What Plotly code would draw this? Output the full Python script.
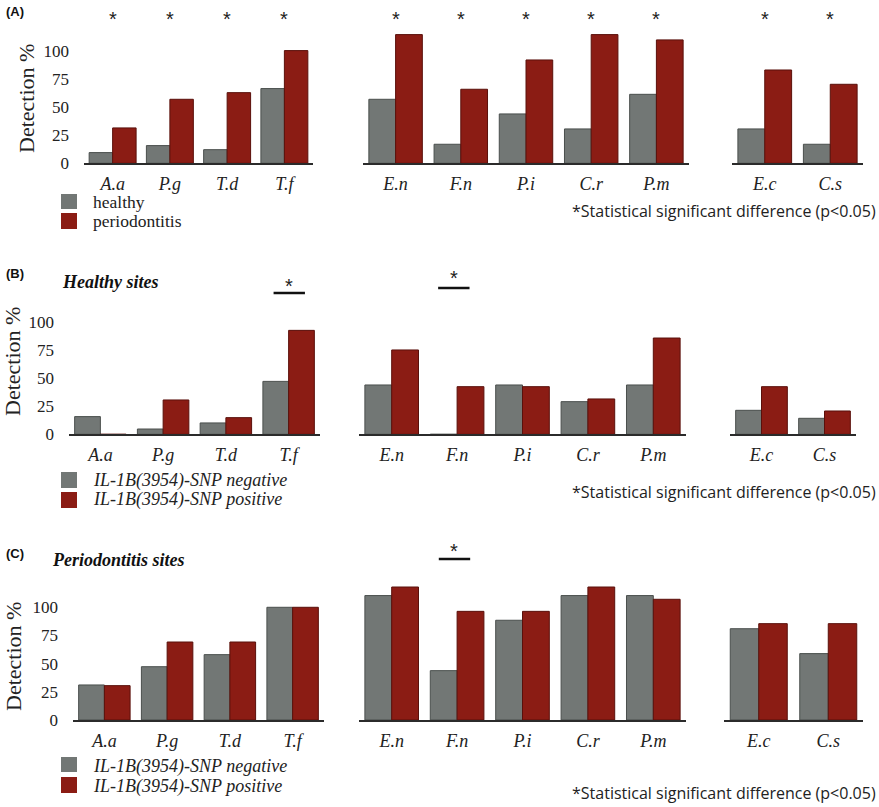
import plotly.graph_objects as go

W, H = 879, 807

# ---------------- data ----------------
group1 = ["A.a", "P.g", "T.d", "T.f"]
group2 = ["E.n", "F.n", "P.i", "C.r", "P.m"]
group3 = ["E.c", "C.s"]
y_ticks = [0, 25, 50, 75, 100]

# Panel A: healthy vs periodontitis
a_healthy = [9.5, 15.7, 12.1, 66.3, 56.8, 16.9, 43.8, 30.5, 61.2, 30.5, 16.9]
a_perio = [31.4, 56.8, 62.7, 100, 114.2, 65.7, 91.7, 114.2, 109.5, 82.8, 70.1]
# Panel B: healthy sites, SNP negative vs positive
b_negative = [15.7, 4.7, 10.1, 47.0, 43.8, 0, 43.8, 29.0, 43.8, 21.3, 14.2]
b_positive = [0, 30.5, 14.8, 92.3, 74.9, 42.3, 42.3, 31.4, 85.5, 42.3, 20.7]
# Panel C: periodontitis sites, SNP negative vs positive
c_negative = [31.1, 47.3, 58.0, 100, 110.4, 43.8, 88.5, 110.4, 110.4, 81.0, 58.9]
c_positive = [30.5, 69.2, 69.2, 100, 118.0, 96.4, 96.4, 118.0, 107.1, 85.5, 85.5]

GRAY = "#727775"
RED = "#8b1c14"
OUT = "#4a4f4d"
SERIF = "'Liberation Serif', 'Times New Roman', Times, 'DejaVu Serif', serif"
SANS = "'Liberation Sans', Arial, sans-serif"
NOTE = "'Open Sans', 'Noto Sans', sans-serif"


def fx(px):
    return px / W


def fy(py):
    return 1 - py / H


groups = [group1, group2, group3]
panels = [
    dict(s1=a_healthy, s2=a_perio, n1="healthy", n2="periodontitis",
         base=163.3, ppu=1.127,
         xd=[(84, 313), (363, 689), (732, 863)]),
    dict(s1=b_negative, s2=b_positive, n1="IL-1B(3954)-SNP negative", n2="IL-1B(3954)-SNP positive",
         base=434.3, ppu=1.126,
         xd=[(69, 320), (359, 686), (730, 856)]),
    dict(s1=c_negative, s2=c_positive, n1="IL-1B(3954)-SNP negative", n2="IL-1B(3954)-SNP positive",
         base=720.0, ppu=1.127,
         xd=[(73, 324), (359, 686), (724, 863)]),
]
YMAX = 125

fig = go.Figure()
layout = {}
for r, p in enumerate(panels):
    start = 0
    for c, cats in enumerate(groups):
        k = r * 3 + c + 1
        xa = "x" if k == 1 else f"x{k}"
        ya = "y" if k == 1 else f"y{k}"
        n = len(cats)
        v1 = p["s1"][start:start + n]
        v2 = p["s2"][start:start + n]
        start += n
        fig.add_trace(go.Bar(x=cats, y=v1, name=p["n1"], marker=dict(color=GRAY, line=dict(color=OUT, width=1)),
                             xaxis=xa, yaxis=ya, showlegend=False))
        fig.add_trace(go.Bar(x=cats, y=v2, name=p["n2"], marker=dict(color=RED, line=dict(color="#5a100b", width=1)),
                             xaxis=xa, yaxis=ya, showlegend=False))
        x0, x1 = p["xd"][c]
        layout["xaxis" if k == 1 else f"xaxis{k}"] = dict(
            domain=[fx(x0), fx(x1)], anchor=ya, type="category", automargin=False,
            showline=True, linecolor="#2b2b2b", linewidth=2,
            showgrid=False, zeroline=False, ticks="",
            tickfont=dict(family=SERIF, size=18, color="#222", style="italic"),
            ticklabelstandoff=3,
        )
        top = p["base"] - YMAX * p["ppu"]
        layout["yaxis" if k == 1 else f"yaxis{k}"] = dict(
            domain=[fy(p["base"]), fy(top)], anchor=xa, range=[0, YMAX], automargin=False,
            showgrid=False, zeroline=False, showline=False, ticks="",
            tickvals=y_ticks, ticktext=[str(t) for t in y_ticks],
            showticklabels=(c == 0),
            tickfont=dict(family=SERIF, size=17, color="#222"),
            ticklabelstandoff=14,
        )

annotations = []
shapes = []

# panel letters
for txt, py in [("(A)", 11), ("(B)", 273), ("(C)", 553)]:
    annotations.append(dict(text=f"<b>{txt}</b>", x=fx(4), y=fy(py), xref="paper", yref="paper",
                            xanchor="left", yanchor="middle", showarrow=False,
                            font=dict(family=SANS, size=13, color="#111")))

# y-axis titles
for px, py in [(26, 99), (13, 362), (13, 657)]:
    annotations.append(dict(text="Detection %", x=fx(px), y=fy(py), xref="paper", yref="paper",
                            textangle=-90, xanchor="center", yanchor="middle", showarrow=False,
                            font=dict(family=SERIF, size=22, color="#222")))

# subtitles
annotations.append(dict(text="<b><i>Healthy sites</i></b>", x=fx(60), y=fy(282), xref="paper", yref="paper",
                        xanchor="left", yanchor="middle", showarrow=False,
                        font=dict(family=SERIF, size=18, color="#111")))
annotations.append(dict(text="<b><i>Periodontitis sites</i></b>", x=fx(50), y=fy(560), xref="paper", yref="paper",
                        xanchor="left", yanchor="middle", showarrow=False,
                        font=dict(family=SERIF, size=18, color="#111")))

# legends (drawn)
legend_rows = [
    (panels[0], [(194, 209, 202), (213, 229, 221)], False),
    (panels[1], [(472, 488, 481), (492, 508, 500)], True),
    (panels[2], [(757, 772, 766), (777, 793, 786)], True),
]
for p, rows, ital in legend_rows:
    for (y0, y1, yc), col, name in zip(rows, [GRAY, RED], [p["n1"], p["n2"]]):
        shapes.append(dict(type="rect", xref="paper", yref="paper", x0=fx(61), x1=fx(77), y0=fy(y1), y1=fy(y0),
                           fillcolor=col, line=dict(width=0)))
        annotations.append(dict(text=(f"<i>{name}</i>" if ital else name), x=fx(91), y=fy(yc),
                                xref="paper", yref="paper", xanchor="left", yanchor="middle", showarrow=False,
                                font=dict(family=SERIF, size=18 if ital else 17.5, color="#222")))

# significance note
for py in [211, 492, 793]:
    annotations.append(dict(text="*Statistical significant difference (p<0.05)", x=fx(570), y=fy(py),
                            xref="paper", yref="paper", xanchor="left", yanchor="middle", showarrow=False,
                            font=dict(family=NOTE, size=16, color="#222")))

# stars in panel A above every category
for c, cats in enumerate(groups):
    k = c + 1
    xa = "x" if k == 1 else f"x{k}"
    for cat in cats:
        annotations.append(dict(text="*", x=cat, y=fy(19), xref=xa, yref="paper",
                                xanchor="center", yanchor="middle", showarrow=False,
                                font=dict(family=SANS, size=20, color="#222")))

# significance bars in panels B and C
sig = [("x4", 3, -0.24, 0.26, 293, 286), ("x5", 1, -0.29, 0.19, 288, 278), ("x8", 1, -0.28, 0.2, 559, 551)]
for xa, idx, d0, d1, ly, sy in sig:
    shapes.append(dict(type="line", xref=xa, yref="paper", x0=idx + d0, x1=idx + d1, y0=fy(ly), y1=fy(ly),
                       line=dict(color="#111", width=2.5)))
    annotations.append(dict(text="*", x=idx + (d0 + d1) / 2, y=fy(sy), xref=xa, yref="paper",
                            xanchor="center", yanchor="middle", showarrow=False,
                            font=dict(family=SANS, size=20, color="#222")))

fig.update_layout(
    width=W, height=H, margin=dict(l=0, r=0, t=0, b=0, pad=0, autoexpand=False),
    paper_bgcolor="white", plot_bgcolor="white",
    barmode="group", bargap=0.18, bargroupgap=0,
    font=dict(family=SERIF),
    annotations=annotations, shapes=shapes, **layout,
)

post = """
var de = document.documentElement, b = document.body;
de.style.margin = '0'; de.style.padding = '0'; de.style.overflow = 'hidden';
b.style.margin = '0'; b.style.padding = '0'; b.style.overflow = 'hidden';
"""
fig.write_html("out.html", config={"displayModeBar": False}, post_script=post)
